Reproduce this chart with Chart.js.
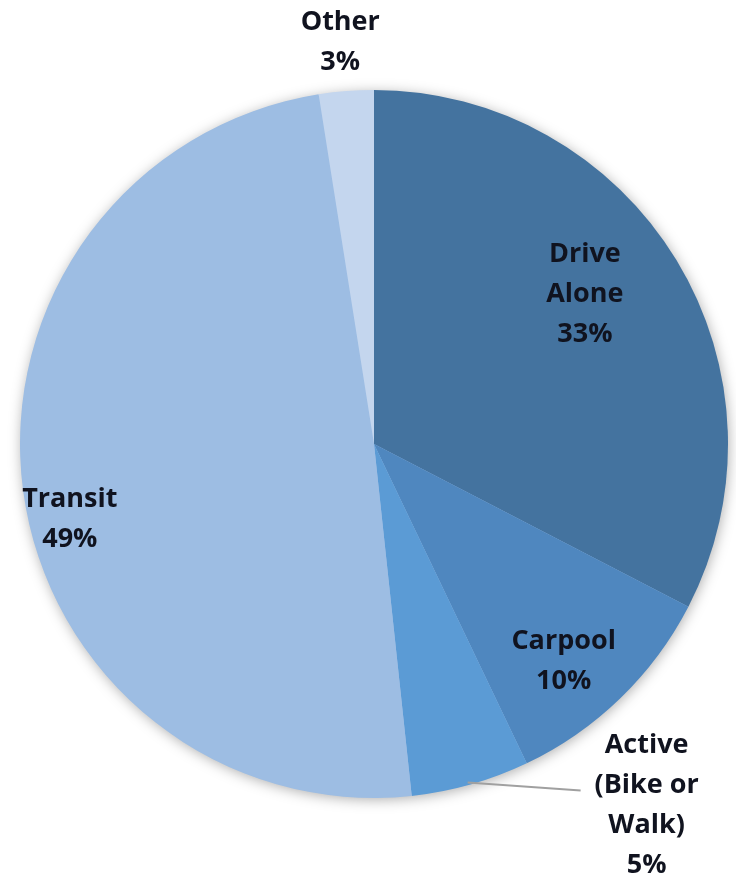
<!DOCTYPE html>
<html>
<head>
<meta charset="utf-8">
<script src="https://cdn.jsdelivr.net/npm/chart.js@4/dist/chart.umd.min.js"></script>
<style>
  html, body { margin: 0; padding: 0; background: #fff; }
  #wrap { width: 736px; height: 879px; }
</style>
</head>
<body>
<div id="wrap"><canvas id="modeChart"></canvas></div>
<script>
// commute mode share (%), clockwise from 12 o'clock
const modes = ["Drive Alone", "Carpool", "Active (Bike or Walk)", "Transit", "Other"];
const shares = [32.6, 10.3, 5.4, 49.2, 2.5];
const labelLines = [
  ["Drive", "Alone"],
  ["Carpool"],
  ["Active", "(Bike or", "Walk)"],
  ["Transit"],
  ["Other"],
];
const sliceColors = ["#44739f", "#4f87bf", "#5b9bd5", "#9dbde3", "#c4d6ee"];

/* where each label sits: radius factor + angle nudge (deg); outside ones get a leader */
const labelPlace = [
  { rf: 0.73, da: -4 },
  { rf: 0.815, da: 3 },
  { rf: 1.0, da: 0, outside: { dx: 110, dy: 6, tx: 176, ty: 21 } },
  { rf: 0.885, da: -6.3 },
  { rf: 1.14, da: -0.3 },
];

/* soft halo behind the pie */
const pieShadow = {
  id: "pieShadow",
  beforeDatasetsDraw(chart) {
    const arc = chart.getDatasetMeta(0).data[0];
    if (!arc) return;
    const { x, y, outerRadius } = arc.getProps(["x", "y", "outerRadius"], true);
    const ctx = chart.ctx;
    ctx.save();
    ctx.shadowColor = "rgba(0,0,0,0.35)";
    ctx.shadowBlur = 14;
    ctx.shadowOffsetX = 1;
    ctx.shadowOffsetY = 2;
    ctx.beginPath();
    ctx.arc(x, y, outerRadius - 1, 0, Math.PI * 2);
    ctx.fillStyle = "#9dbde3";
    ctx.fill();
    ctx.restore();
  },
};

/* category + percent labels */
const sliceLabels = {
  id: "sliceLabels",
  afterDatasetsDraw(chart) {
    const ctx = chart.ctx;
    const total = shares.reduce((a, b) => a + b, 0);
    const lh = 40;
    ctx.save();
    ctx.font = "bold 27px 'Open Sans', sans-serif";
    ctx.fillStyle = "#10131f";
    ctx.textAlign = "center";
    ctx.textBaseline = "middle";

    chart.getDatasetMeta(0).data.forEach((arc, i) => {
      const p = arc.getProps(["x", "y", "startAngle", "endAngle", "outerRadius"], true);
      const place = labelPlace[i];
      const mid = (p.startAngle + p.endAngle) / 2 + (place.da * Math.PI) / 180;
      let ax = p.x + Math.cos(mid) * p.outerRadius * place.rf;
      let ay = p.y + Math.sin(mid) * p.outerRadius * place.rf;
      const lines = labelLines[i].concat([Math.round((shares[i] / total) * 100) + "%"]);

      if (place.outside) {
        // leader from slice edge to text
        const o = place.outside;
        ctx.save();
        ctx.strokeStyle = "#a0a0a0";
        ctx.lineWidth = 2;
        ctx.beginPath();
        ctx.moveTo(ax - 3, ay - 2);
        ctx.lineTo(ax + o.dx, ay + o.dy);
        ctx.stroke();
        ctx.restore();
        ax += o.tx;
        ay += o.ty;
      }

      const top = ay - ((lines.length - 1) * lh) / 2;
      lines.forEach((t, k) => ctx.fillText(t, ax, top + k * lh));
    });
    ctx.restore();
  },
};

new Chart(document.getElementById("modeChart"), {
  type: "pie",
  data: {
    labels: modes,
    datasets: [
      {
        data: shares,
        backgroundColor: sliceColors,
        borderWidth: 0,
      },
    ],
  },
  options: {
    responsive: true,
    maintainAspectRatio: false,
    animation: false,
    layout: { padding: { left: 20, right: 8, top: 90, bottom: 81 } },
    plugins: {
      legend: { display: false },
      tooltip: { enabled: false },
    },
  },
  plugins: [pieShadow, sliceLabels],
});
</script>
</body>
</html>
